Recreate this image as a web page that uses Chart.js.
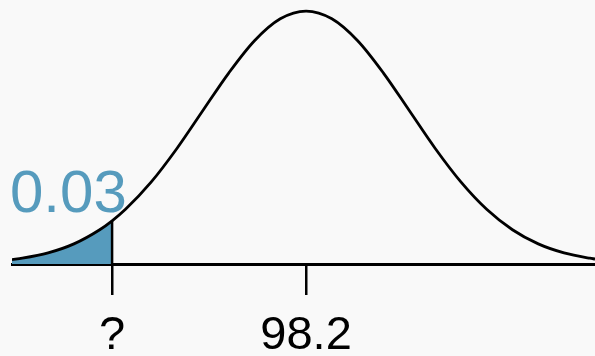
<!DOCTYPE html>
<html>
<head>
<meta charset="utf-8">
<script src="https://cdn.jsdelivr.net/npm/chart.js@4"></script>
<style>
  html, body { margin: 0; padding: 0; background: #f9f9f9; }
  #wrap { width: 595px; height: 356px; }
</style>
</head>
<body>
<div id="wrap"><canvas id="normal-chart"></canvas></div>
<script>
// standard normal curve, x in z units (mean 98.2 sits at z = 0)
const zScores = [-2.85, -2.75, -2.5, -2.25, -2, -1.88, -1.75, -1.5, -1.25, -1, -0.75, -0.5, -0.25,
                 0, 0.25, 0.5, 0.75, 1, 1.25, 1.5, 1.75, 2, 2.25, 2.5, 2.75, 2.8];
const heights = [0.0069, 0.0091, 0.0175, 0.0317, 0.0540, 0.0681, 0.0863, 0.1295, 0.1826, 0.2420, 0.3011, 0.3521, 0.3867,
                 0.3989, 0.3867, 0.3521, 0.3011, 0.2420, 0.1826, 0.1295, 0.0863, 0.0540, 0.0317, 0.0175, 0.0091, 0.0079];

const cutoff = -1.88;          // lower 3% tail
const tailLabel = '0.03';
const tickValues = [cutoff, 0];
const tickLabels = ['?', '98.2'];

const blue = '#569BBD';

let curve = zScores.map((z, i) => ({x: z, y: heights[i]}));
let tail = curve.filter(p => p.x <= cutoff);
let cutHeight = heights[zScores.indexOf(cutoff)];

const tailText = {
    id: 'tailText',
    afterDatasetsDraw(chart) {
        const {ctx, scales: {x}} = chart;
        ctx.save();
        ctx.font = '60px "Liberation Sans", Arial, sans-serif';
        ctx.fillStyle = blue;
        ctx.textAlign = 'left';
        ctx.textBaseline = 'alphabetic';
        ctx.fillText(tailLabel, x.getPixelForValue(zScores[0]) - 2, 212);
        ctx.restore();
    }
};

new Chart(document.querySelector('#normal-chart'), {
    type: 'line',
    data: {
        datasets: [
            {
                data: curve,
                borderColor: '#000',
                borderWidth: 2.8,
                pointRadius: 0,
                cubicInterpolationMode: 'monotone',
                fill: false,
                order: 1
            },
            {
                data: [{x: cutoff, y: 0}, {x: cutoff, y: cutHeight}],
                borderColor: '#000',
                borderWidth: 2.5,
                pointRadius: 0,
                fill: false,
                order: 2
            },
            {
                data: tail,
                borderWidth: 0,
                pointRadius: 0,
                cubicInterpolationMode: 'monotone',
                backgroundColor: blue,
                fill: 'origin',
                order: 3
            }
        ]
    },
    options: {
        responsive: true,
        maintainAspectRatio: false,
        animation: false,
        layout: { padding: { left: 12, right: 0, top: 0, bottom: 0 } },
        plugins: { legend: { display: false }, tooltip: { enabled: false } },
        scales: {
            x: {
                type: 'linear',
                min: -2.85,
                max: 2.8,
                afterBuildTicks: scale => { scale.ticks = tickValues.map(v => ({value: v})); },
                afterFit: scale => { scale.height = 92; },
                ticks: {
                    autoSkip: false,
                    maxRotation: 0,
                    padding: 13,
                    color: '#000',
                    font: { family: '"Liberation Sans", Arial, sans-serif', size: 47 },
                    callback: v => tickLabels[tickValues.indexOf(v)]
                },
                grid: {
                    drawOnChartArea: false,
                    drawTicks: true,
                    tickLength: 31,
                    lineWidth: 2.5,
                    color: '#000'
                },
                border: { display: true, color: '#000', width: 3 }
            },
            y: {
                display: false,
                min: 0,
                max: 0.4163
            }
        }
    },
    plugins: [tailText]
});
</script>
</body>
</html>
